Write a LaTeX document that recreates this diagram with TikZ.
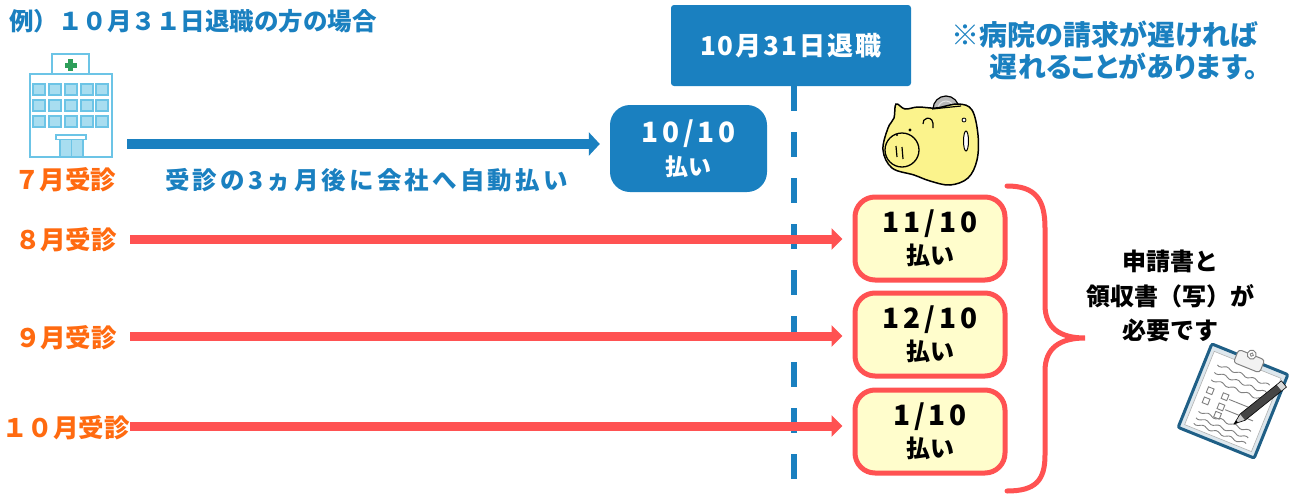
\documentclass[tikz,border=0pt]{standalone}
\usepackage{fontspec}
\setmainfont{Noto Sans CJK JP}
\usetikzlibrary{arrows.meta}

\definecolor{mainblue}{HTML}{1A80C0}
\definecolor{visitorange}{HTML}{FF6A10}
\definecolor{linered}{HTML}{FF5252}
\definecolor{payyellow}{HTML}{FFFDCC}
\definecolor{hospline}{HTML}{6CC4E6}
\definecolor{hospwin}{HTML}{A8DDF0}
\definecolor{crossgreen}{HTML}{2E9E5A}
\definecolor{pigyellow}{HTML}{FBF38C}
\definecolor{boardblue}{HTML}{1F5F86}
\definecolor{pencilgray}{HTML}{454545}

\tikzset{
  titletext/.style={font=\bfseries\fontsize{24.5}{26}\selectfont, text=mainblue, inner sep=0pt},
  visit/.style={font=\bfseries\fontsize{25.5}{26}\selectfont, text=visitorange, inner sep=0pt},
  bluetext/.style={font=\bfseries\fontsize{24.5}{26}\selectfont\addfontfeature{LetterSpace=13}, text=mainblue, inner sep=0pt},
  notetext/.style={font=\bfseries\fontsize{28}{32}\selectfont\addfontfeature{RawFeature=+palt}, text=mainblue, inner sep=0pt, align=right},
  needtext/.style={font=\bfseries\fontsize{24}{34.5}\selectfont, text=black, inner sep=0pt, align=center},
  retirebox/.style={fill=mainblue, rounded corners=3pt, minimum width=240pt, minimum height=81pt, inner sep=0pt,
    text=white, font=\bfseries\fontsize{26}{28}\selectfont\addfontfeature{LetterSpace=8}},
  bluebox/.style={fill=mainblue, rounded corners=20pt, minimum width=157pt, minimum height=87pt, inner sep=0pt,
    text=white, align=center, font=\bfseries\fontsize{23}{33}\selectfont},
  paybox/.style={draw=linered, line width=5pt, fill=payyellow, rounded corners=20pt, minimum width=150pt,
    minimum height=83pt, inner sep=0pt, align=center, font=\bfseries\fontsize{24}{32}\selectfont},
  bluearrow/.style={draw=mainblue, line width=10pt, -{Triangle[length=11pt,width=23pt]}, shorten >=10pt},
  redarrow/.style={draw=linered, line width=9pt, -{Triangle[length=11pt,width=21pt]}, shorten >=10pt},
  dashline/.style={draw=mainblue, line width=6pt, dash pattern=on 25pt off 21pt},
  hosp/.style={draw=hospline, line width=1.6pt, fill=white},
  hwin/.style={draw=hospline, line width=1.2pt, fill=hospwin},
  inkline/.style={draw=black, line width=1.2pt},
}
\newcommand{\datefont}{\fontsize{28}{32}\selectfont\addfontfeature{LetterSpace=14}}

\begin{document}
\begin{tikzpicture}[x=1pt,y=-1pt]
\useasboundingbox (0,0) rectangle (1299,493);

% heading
\node[titletext, anchor=west] (title) at (9,21) {例）１０月３１日退職の方の場合};

% hospital building
\draw[hosp] (52,54) rectangle (89,74);
\fill[crossgreen] (68,59) rectangle (73,71);
\fill[crossgreen] (64.5,62.5) rectangle (76.5,67.5);
\draw[hosp] (30,74) rectangle (112,157);
\foreach \wx in {33,49,65,81,96}
  \foreach \wy in {84,100,116}
    \draw[hwin] (\wx,\wy) rectangle ++(12,11);
\draw[hwin] (60,139) rectangle (83,157);
\draw[hospline, line width=1.2pt] (71.5,139) -- (71.5,157);
\draw[hosp] (56,135) rectangle (86,139.5);

% visit months
\node[visit] (v7)  at (65,180) {７月受診};
\node[visit] (v8)  at (66,240) {８月受診};
\node[visit] (v9)  at (66,338) {９月受診};
\node[visit] (v10) at (66,428) {１０月受診};

% retirement marker
\node[retirebox] (retire) at (791,45.5) {10月31日退職};
\coordinate (dbot) at (794,493);
\draw[dashline] (retire.south -| dbot) -- (dbot);

% automatic payment for July
\node[bluebox] (pay10) at (688.5,148.5) {{\datefont 10/10}\\払い};
\coordinate (b0) at (127,144);
\draw[bluearrow] (b0) -- (b0 -| pay10.west);
\node[bluetext, anchor=west] (auto) at (165,180) {受診の3ヵ月後に会社へ自動払い};

% claims after retirement
\node[paybox] (pay11) at (930,238.5) {{\datefont 11/10}\\払い};
\node[paybox] (pay12) at (930,334.5) {{\datefont 12/10}\\払い};
\node[paybox] (pay1)  at (930,431.5) {{\datefont 1/10}\\払い};
\coordinate (r8)  at (130,239);
\coordinate (r9)  at (130,336);
\coordinate (r10) at (130,426);
\draw[redarrow] (r8)  -- (r8 -| pay11.west);
\draw[redarrow] (r9)  -- (r9 -| pay12.west);
\draw[redarrow] (r10) -- (r10 -| pay1.west);

% note on delays
\node[notetext, anchor=north east] (note) at (1258,21) {※病院の請求が遅ければ\\遅れることがあります。};

% brace
\draw[linered, line width=5pt, line cap=round]
  (1007,186) .. controls (1036,186) and (1045,200) .. (1045,228)
  -- (1045,305) .. controls (1045,328) and (1060,338) .. (1085,338)
  .. controls (1060,338) and (1045,348) .. (1045,371)
  -- (1045,455) .. controls (1045,480) and (1036,491) .. (1007,491);

\node[needtext] (need) at (1170,296) {申請書と\\領収書（写）が\\必要です};

% piggy bank: coin in the slot, then body, snout and details
\draw[inkline, fill=gray!55] (946,109) circle (13pt);
\draw[gray!20, line width=1pt] (946,109) circle (8pt);
\draw[black, line width=1.5pt, fill=pigyellow]
  plot[smooth cycle, tension=0.6] coordinates {
    (896,104) (905,109) (918,107) (936,108) (958,104) (972,110) (978,135) (977,160)
    (968,178) (950,185) (930,181) (914,175) (892,168) (883,150) (888,128) (894,118)};
\draw[inkline] (932,109) -- (961,106);
\draw[black, line width=1.3pt, fill=pigyellow] (902,150) ellipse (17pt and 17pt);
\draw[inkline] (896,146) -- (897,157);
\draw[inkline] (902,147) -- (903,159);
\fill[black] (910,130) circle (1.6pt);
\fill[black] (897,135) circle (1.2pt);
\draw[inkline] (923,124) arc (190:0:5pt) -- ++(0,5);
\draw[black, line width=1pt, fill=white] (966,141) ellipse (2.5pt and 10pt);
\draw[black, line width=0.8pt, fill=white] (964,120) circle (2pt);

% clipboard
\begin{scope}[shift={(1233,401)}, rotate=-22]
  \draw[boardblue, line width=3pt, fill=boardblue!15, rounded corners=2pt] (-41,-45) rectangle (41,45);
  \draw[gray!60, line width=0.6pt, fill=white] (-36,-39) rectangle (36,40);
  \draw[gray, line width=1pt, fill=gray!10, rounded corners=3pt] (-14,-50) rectangle (14,-36);
  \draw[gray, line width=1pt, fill=white] (0,-50) circle (4.5pt);
  \draw[gray, line width=0.8pt, fill=white] (0,-50) circle (1.8pt);
  \foreach \ly in {-28,-20,-12,22,29,35}
    \draw[gray, line width=0.9pt, domain=-28:28, samples=25, smooth] plot (\x, {\ly+1.3*sin(\x*25)});
  \foreach \bx/\by in {-28/-4,-28/7,-12/-4,-12/7,-12/16}
    \draw[gray, line width=0.9pt] (\bx,\by) rectangle ++(6,6);
  \draw[gray, line width=0.9pt] (-4,0) -- (26,0);
  \draw[gray, line width=0.9pt] (-4,11) -- (26,11);
\end{scope}
\begin{scope}[shift={(1234,424)}, rotate=38.7]
  \fill[gray!40] (0,0) -- (11,-4) -- (11,4) -- cycle;
  \fill[black] (0,0) -- (4,-1.5) -- (4,1.5) -- cycle;
  \fill[pencilgray] (11,-4) rectangle (58,4);
  \fill[gray!30] (58,-4) rectangle (64,4);
  \draw[black, line width=0.6pt] (0,0) -- (11,-4) -- (64,-4) -- (64,4) -- (11,4) -- cycle;
\end{scope}
\end{tikzpicture}
\end{document}
